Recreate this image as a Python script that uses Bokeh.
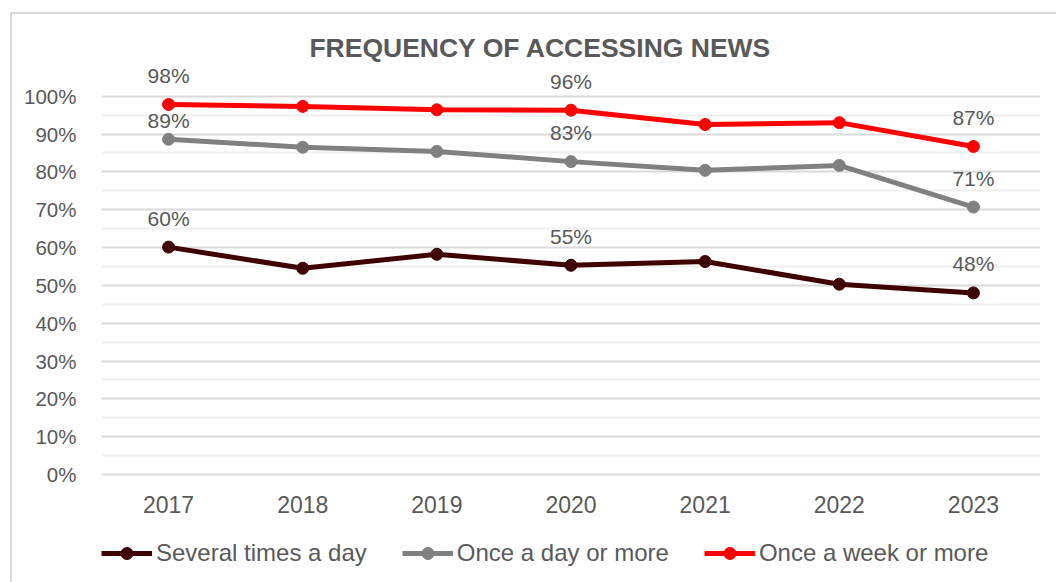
from bokeh.plotting import figure
from bokeh.models import (Range1d, FixedTicker, PrintfTickFormatter, Legend, LegendItem,
                          ColumnDataSource)
from bokeh.core.properties import value
from bokeh.embed import file_html
from bokeh.resources import INLINE

# --- data -------------------------------------------------------------
years = ["2017", "2018", "2019", "2020", "2021", "2022", "2023"]
several_times_a_day = [60.1, 54.5, 58.2, 55.3, 56.3, 50.3, 48.0]
once_a_day_or_more = [88.6, 86.5, 85.4, 82.7, 80.4, 81.7, 70.7]
once_a_week_or_more = [97.8, 97.3, 96.4, 96.3, 92.5, 93.0, 86.7]
y_ticks = [0, 10, 20, 30, 40, 50, 60, 70, 80, 90, 100]
title_text = "FREQUENCY OF ACCESSING NEWS"

FONT = "Liberation Sans"
TEXT = "#595959"

# The frame runs to the bottom of the canvas so the legend can sit under the
# year labels; 0..100 % keeps 454 px per 120 units.
FRAME_H = 562
PX_PER_UNIT = 454 / 120
Y_TOP = 120
Y_BOTTOM = Y_TOP - FRAME_H / PX_PER_UNIT

p = figure(frame_width=939, frame_height=FRAME_H,
           min_border_left=89, min_border_right=16, min_border_top=6, min_border_bottom=0,
           x_range=Range1d(-0.5, 6.5), y_range=Range1d(Y_BOTTOM, Y_TOP),
           output_backend="svg", toolbar_location=None)
p.margin = (12, 0, 0, 10)
p.styles = {"border-left": "2px solid #d9d9d9", "border-top": "2px solid #d9d9d9"}
p.outline_line_color = None
p.background_fill_color = "white"
p.border_fill_color = "white"

# axes
p.xaxis.fixed_location = 0
p.xaxis.ticker = FixedTicker(ticks=list(range(len(years))))
p.xaxis.major_label_overrides = {i: y for i, y in enumerate(years)}
p.yaxis.ticker = FixedTicker(ticks=y_ticks, minor_ticks=[t + 5 for t in y_ticks[:-1]])
p.yaxis.formatter = PrintfTickFormatter(format="%d%%")
for ax in (p.xaxis, p.yaxis):
    ax.axis_line_color = None
    ax.major_tick_line_color = None
    ax.minor_tick_line_color = None
    ax.major_label_text_color = TEXT
    ax.major_label_text_font = FONT
p.xaxis.major_label_text_font_size = "23px"
p.xaxis.major_label_standoff = 15
p.yaxis.major_label_text_font_size = "20.5px"
p.yaxis.major_label_standoff = 19

p.xgrid.grid_line_color = None
p.ygrid.grid_line_color = "#d9d9d9"
p.ygrid.grid_line_width = 2
p.ygrid.minor_grid_line_color = "#f0f0f0"
p.ygrid.minor_grid_line_width = 2

# series
series = [
    ("Several times a day", several_times_a_day, "#3f0000", [-29, -29, -29]),
    ("Once a day or more", once_a_day_or_more, "#808080", [-19, -29, -29]),
    ("Once a week or more", once_a_week_or_more, "#ff0000", [-29, -29, -29]),
]
xs = list(range(len(years)))
label_idx = [0, 3, 6]
items = []
for name, vals, color, offsets in series:
    src = ColumnDataSource(dict(x=xs, y=vals))
    ln = p.line("x", "y", source=src, line_color=color, line_width=5, line_join="round")
    sc = p.scatter("x", "y", source=src, size=12, fill_color=color, line_color=color)
    items.append(LegendItem(label=name, renderers=[ln, sc]))
    lab = ColumnDataSource(dict(x=[xs[i] for i in label_idx],
                                y=[vals[i] for i in label_idx],
                                t=[f"{round(vals[i])}%" for i in label_idx],
                                off=offsets))
    p.text("x", "y", text="t", source=lab, y_offset="off", text_align="center",
           text_baseline="middle", text_color=TEXT, text_font=value(FONT),
           text_font_size="21px")

# title
p.text(x=[2.773], y=[112.7], text=[title_text], text_align="center", text_baseline="middle",
       text_color=TEXT, text_font=value(FONT), text_font_style="bold",
       text_font_size="26.5px")

# legend under the year labels, anchored to the frame's bottom-left corner
legend = Legend(items=items, orientation="horizontal", location=(0, 14),
                glyph_width=51, glyph_height=30, label_standoff=4, spacing=35,
                padding=0, margin=0, border_line_color=None, background_fill_alpha=0,
                label_text_font=FONT, label_text_font_size="24px", label_text_color=TEXT)
p.add_layout(legend)

open("out.html", "w").write(file_html(p, INLINE))
